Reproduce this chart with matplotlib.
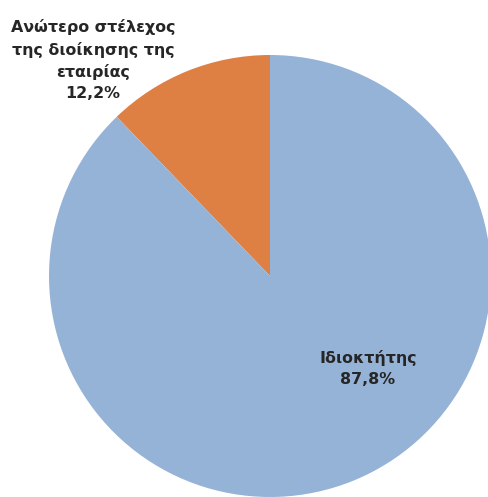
import matplotlib
matplotlib.use("Agg")
import matplotlib.pyplot as plt

categories = ["Ανώτερο στέλεχος\nτης διοίκησης της\nεταιρίας", "Ιδιοκτήτης"]
values = [12.2, 87.8]
pct_labels = ["12,2%", "87,8%"]
colors = ["#DE8044", "#95B3D7"]

plt.rcParams['font.family'] = ['DejaVu Sans']

W, H = 489, 497
fig = plt.figure(figsize=(W / 100, H / 100), dpi=100)
ax = fig.add_axes([0, 0, 1, 1])

cx, cy, r = 270, H - 276, 221
ax.pie(values, colors=colors, startangle=90, counterclock=True,
       center=(cx, cy), radius=r, frame=True,
       wedgeprops=dict(linewidth=0))
ax.set_xlim(0, W)
ax.set_ylim(0, H)
ax.set_aspect('equal')
ax.axis('off')

ax.text(93, H - 60, categories[0] + "\n" + pct_labels[0], ha='center', va='center',
        fontsize=11.4, fontweight='bold', color='#262626', linespacing=1.5)
ax.text(368, H - 368, categories[1] + "\n" + pct_labels[1], ha='center', va='center',
        fontsize=11.4, fontweight='bold', color='#262626', linespacing=1.5)

fig.savefig("out.png", dpi=100)
